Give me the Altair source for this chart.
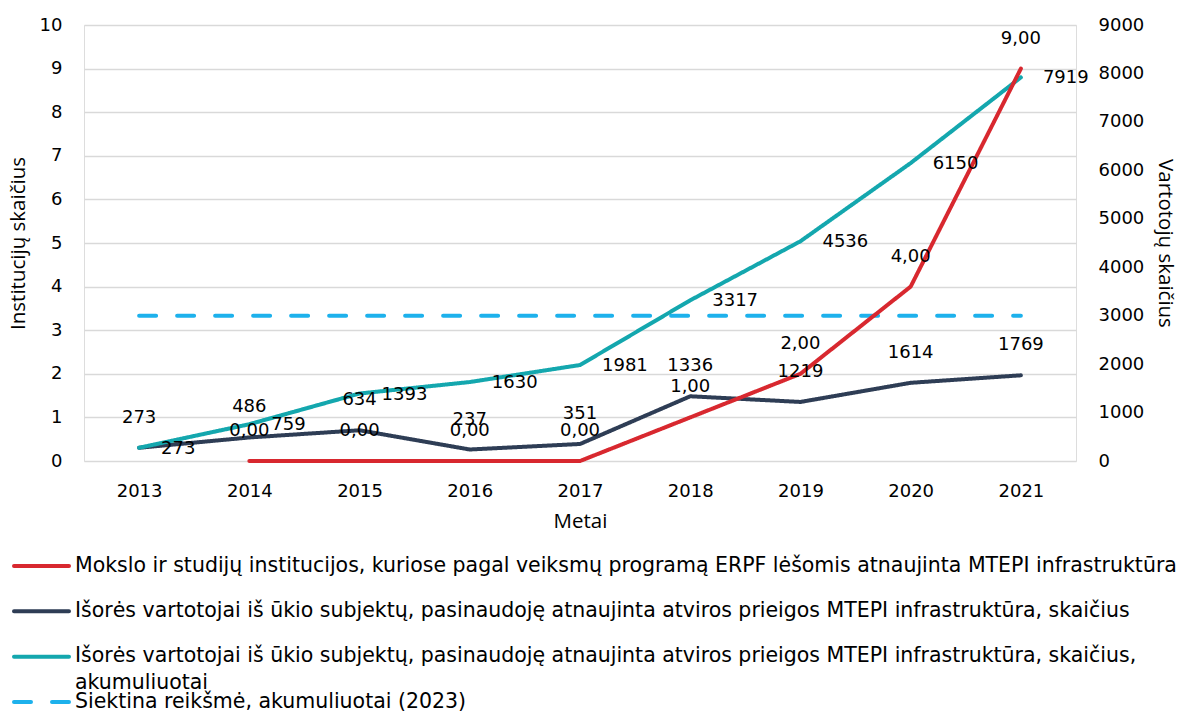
import altair as alt
import pandas as pd

FONT = "DejaVu Sans"
TFONT = "Open Sans"

years = [2013, 2014, 2015, 2016, 2017, 2018, 2019, 2020, 2021]
red_years = [2014, 2015, 2016, 2017, 2018, 2019, 2020, 2021]
red_values = [0, 0, 0, 0, 1, 2, 4, 9]
navy_values = [273, 486, 634, 237, 351, 1336, 1219, 1614, 1769]
teal_values = [273, 759, 1393, 1630, 1981, 3317, 4536, 6150, 7919]
target_values = [3000, 3000, 3000, 3000, 3000, 3000, 3000, 3000, 3000]

series_names = [
    "Mokslo ir studijų institucijos, kuriose pagal veiksmų programą ERPF lėšomis atnaujinta MTEPI infrastruktūra",
    "Išorės vartotojai iš ūkio subjektų, pasinaudoję atnaujinta atviros prieigos MTEPI infrastruktūra, skaičius",
    "Išorės vartotojai iš ūkio subjektų, pasinaudoję atnaujinta atviros prieigos MTEPI infrastruktūra, skaičius, akumuliuotai",
    "Siektina reikšmė, akumuliuotai (2023)",
]
legend_labels = [
    series_names[0],
    series_names[1],
    "Išorės vartotojai iš ūkio subjektų, pasinaudoję atnaujinta atviros prieigos MTEPI infrastruktūra, skaičius,\nakumuliuotai",
    series_names[3],
]
colors = ["#d8282f", "#2e3d55", "#14a7ae", "#1db1ec"]
dashes = [[1, 0], [1, 0], [1, 0], [17, 21]]

red_df = pd.DataFrame({"year": red_years, "value": red_values, "series": series_names[0],
                       "label": [f"{v:.2f}".replace(".", ",") for v in red_values]})
navy_df = pd.DataFrame({"year": years, "value": navy_values, "series": series_names[1],
                        "label": [str(v) for v in navy_values]})
teal_df = pd.DataFrame({"year": years, "value": teal_values, "series": series_names[2],
                        "label": [str(v) for v in teal_values]})
target_df = pd.DataFrame({"year": years, "value": target_values, "series": series_names[3]})
right_df = pd.concat([target_df, navy_df, teal_df], ignore_index=True)
legend_df = pd.DataFrame({"series": series_names, "text": legend_labels,
                          "row": list(range(len(series_names)))})

common_axis = dict(domain=False, ticks=False, tickSize=0, labelFontSize=18, titleFontSize=20.5,
                   labelColor="black", titleColor="black", titleFontWeight="normal",
                   labelFont=FONT, titleFont=TFONT)

X = alt.X("year:O", title="Metai",
          axis=alt.Axis(labelAngle=0, labelPadding=21, titlePadding=11, grid=False, **common_axis))

left_axis = alt.Axis(orient="left", values=list(range(11)), title="Institucijų skaičius",
                     grid=True, gridColor="#d9d9d9", gridWidth=1.5, labelPadding=22,
                     titlePadding=11, **common_axis)
right_axis = alt.Axis(orient="right", values=list(range(0, 9001, 1000)), format="d",
                      title="Vartotojų skaičius", grid=False, labelPadding=22,
                      titlePadding=11, **common_axis)

COLOR = alt.Color("series:N", scale=alt.Scale(domain=series_names, range=colors), legend=None)
DASH = alt.StrokeDash("series:N", scale=alt.Scale(domain=series_names, range=dashes), legend=None)


def yL(axis=None):
    return alt.Y("value:Q", scale=alt.Scale(domain=[0, 10]), axis=axis)


def yR(axis=None):
    return alt.Y("value:Q", scale=alt.Scale(domain=[0, 9000]), axis=axis)


line_style = dict(strokeWidth=4, strokeCap="round", strokeJoin="round")

right_lines = alt.Chart(right_df).mark_line(**line_style).encode(
    x=X, y=yR(right_axis), color=COLOR, strokeDash=DASH)

left_lines = alt.Chart(red_df).mark_line(**line_style).encode(
    x=X, y=yL(left_axis), color=COLOR, strokeDash=DASH)

txt = dict(fontSize=18, font=FONT, color="black")

navy_labels = alt.Chart(navy_df).mark_text(align="center", baseline="middle", dy=-30, **txt).encode(
    x=X, y=yR(), text="label:N")
teal_labels = alt.Chart(teal_df).mark_text(align="left", baseline="middle", dx=22, dy=1, **txt).encode(
    x=X, y=yR(), text="label:N")
right_labels = alt.layer(navy_labels, teal_labels)

red_labels = alt.Chart(red_df).mark_text(align="center", baseline="middle", dy=-30, **txt).encode(
    x=X, y=yL(), text="label:N")

LY = alt.Y("row:Q", scale=alt.Scale(domain=[0, 3], range=[541, 677]), axis=None)
legend_rules = alt.Chart(legend_df).mark_rule(strokeWidth=4, strokeCap="round").encode(
    x=alt.value(-70), x2=alt.value(-15), y=LY, color=COLOR, strokeDash=DASH)
legend_text = alt.Chart(legend_df).mark_text(align="left", baseline="line-top", lineHeight=27, dy=-13.5,
                                             lineBreak="\n", fontSize=20.5, font=FONT,
                                             color="black").encode(
    x=alt.value(-9), y=LY, text="text:N")
legend = alt.layer(legend_rules, legend_text)

chart = alt.layer(right_lines, left_lines, right_labels, red_labels, legend).resolve_scale(
    y="independent"
).properties(
    width=992, height=436, padding={"left": 0, "top": 8, "right": 0, "bottom": 0}, background="white"
).configure_view(stroke=None).configure(font=FONT)

chart.save("out.html", embed_options={"renderer": "svg", "actions": False})
